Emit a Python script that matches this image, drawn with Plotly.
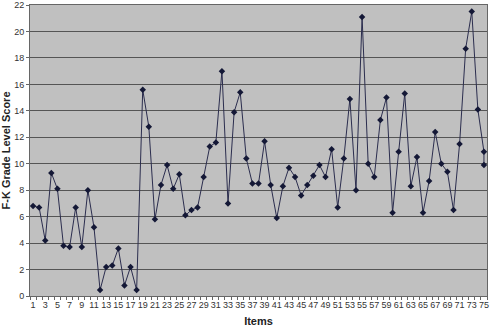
import plotly.graph_objects as go

ITEMS = list(range(1, 76)) + [75]
SCORES = [6.8, 6.7, 4.2, 9.3, 8.1, 3.8, 3.7, 6.7, 3.7, 8.0,
          5.2, 0.45, 2.2, 2.3, 3.6, 0.8, 2.2, 0.45, 15.6, 12.8,
          5.8, 8.4, 9.9, 8.1, 9.2, 6.1, 6.5, 6.7, 9.0, 11.3,
          11.6, 17.0, 7.0, 13.9, 15.4, 10.4, 8.5, 8.5, 11.7, 8.4,
          5.9, 8.3, 9.7, 9.0, 7.6, 8.4, 9.1, 9.9, 9.0, 11.1,
          6.7, 10.4, 14.9, 8.0, 21.1, 10.0, 9.0, 13.3, 15.0, 6.3,
          10.9, 15.3, 8.3, 10.5, 6.3, 8.7, 12.4, 10.0, 9.4, 6.5,
          11.5, 18.7, 21.5, 14.1, 10.9, 9.9]
X_TICKS = list(range(1, 76, 2))
Y_TICKS = list(range(0, 23, 2))

fig = go.Figure()
fig.add_trace(go.Scatter(
    x=ITEMS, y=SCORES, mode="lines+markers",
    line=dict(color="#2b2d4e", width=1),
    marker=dict(symbol="diamond", size=5, color="#141836"),
    showlegend=False, cliponaxis=False, hoverinfo="skip",
))

font = "Liberation Sans, Arial, sans-serif"
fig.update_layout(
    width=491, height=329, autosize=False,
    margin=dict(l=30, r=4, t=5, b=33, autoexpand=False),
    paper_bgcolor="white", plot_bgcolor="#c0c0c0",
    font=dict(family=font, size=9, color="#333333"),
    hovermode=False,
)
fig.update_xaxes(
    range=[0.5, 75.5], tickmode="array", tickvals=X_TICKS,
    ticktext=[str(v) for v in X_TICKS],
    ticks="", showgrid=False, zeroline=False, automargin=False,
    showline=True, linecolor="#666666", linewidth=1, mirror=True,
    tickfont=dict(size=9, color="#333333"),
    minor=dict(tickmode="linear", tick0=0.5, dtick=1, ticks="outside",
               ticklen=3, tickcolor="#666666", showgrid=False),
    title=dict(text="<b>Items</b>", font=dict(size=11, color="#222222"), standoff=8),
)
fig.update_yaxes(
    range=[0, 22], tickmode="array", tickvals=Y_TICKS, automargin=False,
    ticks="outside", ticklen=3, tickcolor="#666666",
    showgrid=True, gridcolor="#555555", gridwidth=1, zeroline=False,
    showline=True, linecolor="#666666", linewidth=1, mirror=True,
    tickfont=dict(size=9, color="#333333"),
    title=dict(text="<b>F-K Grade Level Score</b>", font=dict(size=11, color="#222222"), standoff=6),
)

fig.write_html("out.html", config={"displayModeBar": False, "staticPlot": True},
               post_script="document.body.style.margin='0';document.body.style.overflow='hidden';")
